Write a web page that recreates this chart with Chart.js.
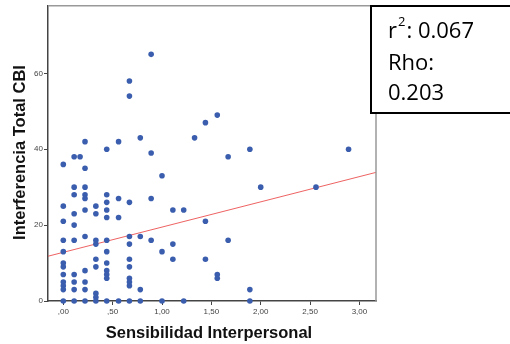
<!DOCTYPE html>
<html>
<head>
<meta charset="utf-8">
<script src="https://cdn.jsdelivr.net/npm/chart.js@4/dist/chart.umd.min.js"></script>
<style>
  html, body { margin: 0; padding: 0; background: #fff; }
  #wrap { width: 510px; height: 344px; }
</style>
</head>
<body>
<div id="wrap"><canvas id="scatter" width="510" height="344"></canvas></div>
<script>
// valores (x = Sensibilidad Interpersonal, y = Interferencia Total CBI)
const sensibilidad = [
  0, 0, 0, 0, 0, 0, 0, 0, 0, 0, 0, 0,
  0.11, 0.11, 0.11, 0.11, 0.11, 0.11, 0.11, 0.11, 0.11, 0.11,
  0.17,
  0.22, 0.22, 0.22, 0.22, 0.22, 0.22, 0.22, 0.22, 0.22, 0.22, 0.22,
  0.33, 0.33, 0.33, 0.33, 0.33, 0.33, 0.33, 0.33, 0.33,
  0.44, 0.44, 0.44, 0.44, 0.44, 0.44, 0.44, 0.44, 0.44, 0.44, 0.44, 0.44,
  0.56, 0.56, 0.56, 0.56,
  0.67, 0.67, 0.67, 0.67, 0.67, 0.67, 0.67, 0.67, 0.67, 0.67, 0.67,
  0.78, 0.78, 0.78, 0.78,
  0.89, 0.89, 0.89, 0.89,
  1.00, 1.00, 1.00,
  1.11, 1.11, 1.11,
  1.22, 1.22,
  1.33,
  1.44, 1.44, 1.44,
  1.56, 1.56, 1.56,
  1.67, 1.67,
  1.89, 1.89, 1.89,
  2.00,
  2.56,
  2.89
];
const interferencia = [
  36, 25, 21, 16, 13, 10, 9, 7, 5, 4, 3, 0,
  38, 30, 28, 23, 20, 16, 7, 5, 3, 0,
  38,
  42, 35, 30, 28, 27, 24, 17, 8, 5, 3, 0,
  25, 23, 16, 15, 11, 9, 2, 1, 0,
  40, 28, 26, 24, 22, 16, 13, 10, 8, 7, 6, 0,
  42, 27, 22, 0,
  58, 54, 26, 17, 15, 11, 9, 6, 5, 4, 0,
  43, 17, 3, 0,
  65, 39, 27, 16,
  33, 13, 0,
  24, 15, 11,
  24, 0,
  43,
  47, 21, 11,
  49, 7, 6,
  38, 16,
  40, 3, 0,
  30,
  30,
  40
];

const xTicks = [0, 0.5, 1, 1.5, 2, 2.5, 3];
const xTickLabels = [',00', ',50', '1,00', '1,50', '2,00', '2,50', '3,00'];
const yTicks = [0, 20, 40, 60];
const yTickLabels = ['0', '20', '40', '60'];

// recta de ajuste lineal
const ajuste = { intercept: 12.83, slope: 6.65 };
const r2 = '0.067';
const rho = '0.203';

const xMin = -0.155, xMax = 3.168;
const yMin = 0, yMax = 77.8;

const puntos = sensibilidad.map((x, i) => ({ x: x, y: interferencia[i] }));
const recta = [xMin, xMax].map(x => ({ x: x, y: ajuste.intercept + ajuste.slope * x }));

const extras = {
  id: 'extras',
  afterDraw(chart) {
    const ctx = chart.ctx;
    const a = chart.chartArea;
    ctx.save();
    // bordes superior y derecho
    ctx.strokeStyle = '#999';
    ctx.lineWidth = 1.5;
    ctx.beginPath();
    ctx.moveTo(a.left, a.top);
    ctx.lineTo(a.right, a.top);
    ctx.lineTo(a.right, a.bottom);
    ctx.stroke();

    // títulos de ejes
    ctx.fillStyle = '#111';
    ctx.font = 'bold 16.5px "Liberation Sans", Arial, sans-serif';
    ctx.textAlign = 'center';
    ctx.textBaseline = 'alphabetic';
    ctx.fillText('Sensibilidad Interpersonal', 209, 338);
    ctx.translate(25, 152.5);
    ctx.rotate(-Math.PI / 2);
    ctx.fillText('Interferencia Total CBI', 0, 0);
    ctx.restore();

    // cuadro con estadísticos
    ctx.save();
    ctx.fillStyle = '#fff';
    ctx.fillRect(371, 6, 160, 107);
    ctx.strokeStyle = '#000';
    ctx.lineWidth = 2;
    ctx.strokeRect(371, 6, 160, 107);
    ctx.fillStyle = '#000';
    ctx.textAlign = 'left';
    ctx.textBaseline = 'alphabetic';
    const big = '22px "Open Sans", sans-serif';
    const small = '13px "Open Sans", sans-serif';
    let x = 388;
    ctx.font = big;
    ctx.fillText('r', x, 38);
    x += ctx.measureText('r').width + 1;
    ctx.font = small;
    ctx.fillText('2', x, 26);
    x += ctx.measureText('2').width + 1;
    ctx.font = big;
    ctx.fillText(': ' + r2, x, 38);
    ctx.fillText('Rho:', 388, 70);
    ctx.fillText(rho, 388, 100);
    ctx.restore();
  }
};

const ctx = document.getElementById('scatter').getContext('2d');
new Chart(ctx, {
  type: 'scatter',
  data: {
    datasets: [
      {
        data: puntos,
        backgroundColor: '#3a5dae',
        borderWidth: 0,
        pointRadius: 2.8,
        pointHoverRadius: 2.8,
        clip: false
      },
      {
        type: 'line',
        data: recta,
        borderColor: 'rgba(235, 70, 70, 0.85)',
        borderWidth: 1,
        pointRadius: 0,
        fill: false
      }
    ]
  },
  options: {
    responsive: false,
    animation: false,
    devicePixelRatio: 1,
    layout: { padding: { left: 0, top: 5, right: 134, bottom: 0 } },
    plugins: { legend: { display: false }, tooltip: { enabled: false } },
    scales: {
      x: {
        type: 'linear',
        min: xMin,
        max: xMax,
        afterBuildTicks: s => { s.ticks = xTicks.map(v => ({ value: v })); },
        afterFit: s => { s.height = 43; },
        ticks: {
          callback: (v, i) => xTickLabels[i],
          font: { size: 8, family: '"Liberation Sans", Arial, sans-serif' },
          color: '#444',
          padding: 2,
          maxRotation: 0,
          autoSkip: false
        },
        grid: { drawOnChartArea: false, drawTicks: true, tickLength: 4, color: '#444' },
        border: { color: '#444', width: 1.5 }
      },
      y: {
        min: yMin,
        max: yMax,
        afterBuildTicks: s => { s.ticks = yTicks.map(v => ({ value: v })); },
        afterFit: s => { s.width = 48; },
        ticks: {
          callback: (v, i) => yTickLabels[i],
          font: { size: 8, family: '"Liberation Sans", Arial, sans-serif' },
          color: '#444',
          padding: 1,
          autoSkip: false
        },
        grid: { drawOnChartArea: false, drawTicks: true, tickLength: 4, color: '#444' },
        border: { color: '#444', width: 1.5 }
      }
    }
  },
  plugins: [extras]
});
</script>
</body>
</html>
